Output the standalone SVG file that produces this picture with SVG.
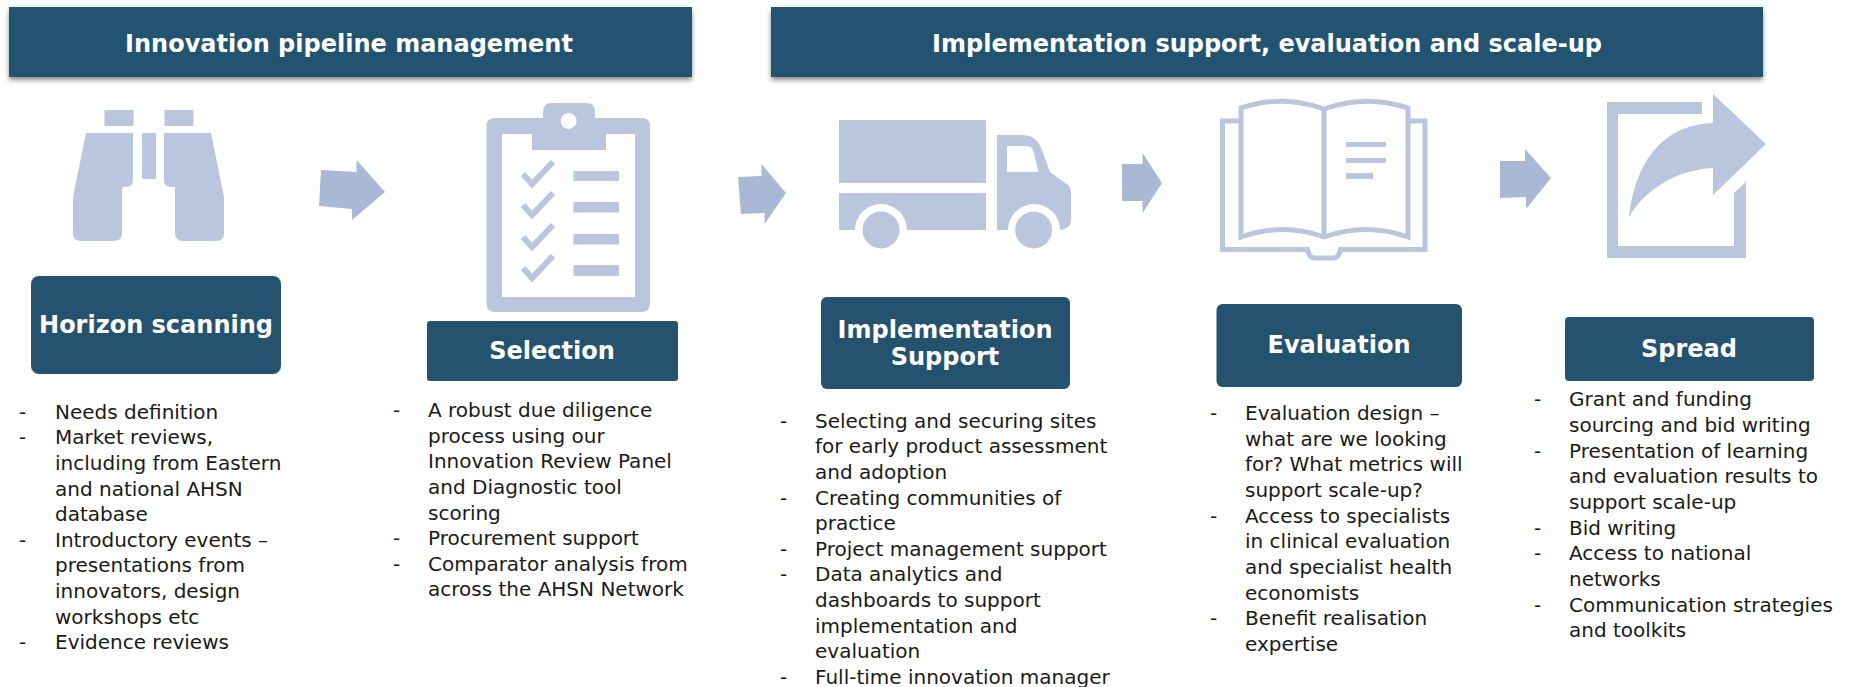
<svg xmlns="http://www.w3.org/2000/svg" width="1850" height="687" viewBox="0 0 1850 687">
<style>
.bar{fill:#24526f}
.sh{fill:#24526f;filter:url(#s)}
.ic{fill:#bac6dd}
.ln{fill:none;stroke:#bac6dd;stroke-width:5}
.ar{fill:#a9b8d5}
text{font-family:"DejaVu Sans","Liberation Sans",sans-serif}
.h{font-size:24px;font-weight:700;fill:#fff;text-anchor:middle}
.t{font-size:20px;fill:#1a1a1a}
</style>
<defs>
<filter id="s" x="-5%" y="-20%" width="110%" height="150%"><feDropShadow dx="0" dy="3" stdDeviation="2.5" flood-color="#000" flood-opacity=".45"/></filter>
</defs>
<rect width="1850" height="687" fill="#fff"/>
<g id="header-pipeline"><rect class="sh" x="9" y="7" width="683" height="70"/><text class="h" x="349" y="52">Innovation pipeline management</text></g>
<g id="header-implementation"><rect class="sh" x="771" y="7" width="992" height="70"/><text class="h" x="1267" y="52">Implementation support, evaluation and scale-up</text></g>
<g id="connectors">
<polygon class="ar" points="321,170 356.5,172 356.5,160 385,192 352,220 352,209 319,206"/>
<polygon class="ar" points="738,177 761.4,176 761.4,164 786,193 764.6,224 764.6,213 741,214"/>
<polygon class="ar" points="1122,164 1142.6,164 1142.6,153 1162,183 1142.6,213 1142.6,201 1122,201"/>
<polygon class="ar" points="1500,161 1525,161 1525,149 1551,178 1526,209 1526,197 1500,198"/>
</g>
<g id="horizon-scanning">
<g class="ic"><rect x="104.500" y="110" width="29" height="16"/><rect x="164.500" y="110" width="29" height="16"/><rect x="142" y="133" width="14" height="46"/>
<path d="M86 133H133V180Q133 187 126 187H122V233Q122 241 114 241H81Q73 241 73 233V197Z"/>
<path d="M211 133H164V180Q164 187 171 187H175V233Q175 241 183 241H216Q224 241 224 233V197Z"/></g>
<rect class="bar" x="31" y="276" width="250" height="98" rx="8"/><text class="h" x="156" y="333">Horizon scanning</text>
<g class="t"><text x="19" y="419">-</text><text x="55" y="419">Needs definition</text><text x="19" y="444">-</text><text x="55" y="444">Market reviews,</text><text x="55" y="470">including from Eastern</text><text x="55" y="496">and national AHSN</text><text x="55" y="521">database</text><text x="19" y="547">-</text><text x="55" y="547">Introductory events –</text><text x="55" y="572">presentations from</text><text x="55" y="598">innovators, design</text><text x="55" y="624">workshops etc</text><text x="19" y="649">-</text><text x="55" y="649">Evidence reviews</text></g>
</g>
<g id="selection">
<path class="ic" fill-rule="evenodd" d="M495 118H543V112Q543 103 552 103H586Q595 103 595 112V118H642Q650 118 650 126V303Q650 312 641 312H495Q486.500 312 486.500 303V126Q486.500 118 495 118ZM502 134V297H635V134H606V150H532V134ZM568.600 113A8 8 0 1 0 568.700 129A8 8 0 1 0 568.600 113Z"/>
<g class="ic"><rect x="573.500" y="171" width="45.500" height="10"/><rect x="573.500" y="202" width="45.500" height="10.500"/><rect x="573.500" y="234" width="45.500" height="10.500"/><rect x="573.500" y="265" width="45.500" height="11"/></g>
<g fill="none" stroke="#bac6dd" stroke-width="6"><path d="M523 174L532 184L553 162"/><path d="M523 205L532 215L553 193"/><path d="M523 237L532 247L553 225"/><path d="M523 268L532 278L553 256"/></g>
<rect class="bar" x="427" y="321" width="251" height="60" rx="3"/><text class="h" x="552" y="359">Selection</text>
<g class="t"><text x="393" y="417">-</text><text x="428" y="417">A robust due diligence</text><text x="428" y="443">process using our</text><text x="428" y="468">Innovation Review Panel</text><text x="428" y="494">and Diagnostic tool</text><text x="428" y="520">scoring</text><text x="393" y="545">-</text><text x="428" y="545">Procurement support</text><text x="393" y="571">-</text><text x="428" y="571">Comparator analysis from</text><text x="428" y="596">across the AHSN Network</text></g>
</g>
<g id="implementation-support">
<path class="ic" d="M839 120H986V183H839ZM839 193H986V230H907A26 26 0 0 0 855 230H839ZM997 135H1022Q1037 135 1042 150L1050 172L1068 185Q1071 188 1071 192V220Q1071 229 1060 230A26 26 0 0 0 1008 230H997ZM1007 146V172H1038.600L1033 150Q1031 146 1027 146Z" fill-rule="evenodd"/>
<g class="ic"><circle cx="881" cy="230" r="18.500"/><circle cx="1033.600" cy="230" r="18.500"/></g>
<rect class="bar" x="821" y="297" width="249" height="92" rx="6"/><text class="h" x="945" y="338">Implementation</text><text class="h" x="945" y="365">Support</text>
<g class="t"><text x="780" y="428">-</text><text x="815" y="428">Selecting and securing sites</text><text x="815" y="453">for early product assessment</text><text x="815" y="479">and  adoption</text><text x="780" y="505">-</text><text x="815" y="505">Creating communities of</text><text x="815" y="530">practice</text><text x="780" y="556">-</text><text x="815" y="556">Project management support</text><text x="780" y="581">-</text><text x="815" y="581">Data analytics and</text><text x="815" y="607">dashboards to support</text><text x="815" y="633">implementation and</text><text x="815" y="658">evaluation</text><text x="780" y="684">-</text><text x="815" y="684">Full-time innovation manager</text></g>
</g>
<g id="evaluation">
<path class="ln" d="M1240 121H1222.500V249.500H1307.500Q1309 258 1315 258H1333Q1339 258 1340.500 249.500H1425V121H1408" stroke-width="4.500"/>
<path class="ln" d="M1241 108Q1283 94 1324 109Q1366 94 1408 108V237Q1366 222 1324 237Q1283 222 1241 237ZM1324 109V237"/>
<g class="ic"><rect x="1346" y="142" width="40" height="5"/><rect x="1346" y="158" width="40" height="5"/><rect x="1346" y="173" width="27" height="6"/></g>
<rect class="bar" x="1216.500" y="304" width="245.500" height="83" rx="6"/><text class="h" x="1339" y="353">Evaluation</text>
<g class="t"><text x="1210" y="420">-</text><text x="1245" y="420">Evaluation design –</text><text x="1245" y="446">what are we looking</text><text x="1245" y="471">for? What metrics will</text><text x="1245" y="497">support scale-up?</text><text x="1210" y="523">-</text><text x="1245" y="523">Access to specialists</text><text x="1245" y="548">in clinical evaluation</text><text x="1245" y="574">and specialist health</text><text x="1245" y="600">economists</text><text x="1210" y="625">-</text><text x="1245" y="625">Benefit realisation</text><text x="1245" y="651">expertise</text></g>
</g>
<g id="spread">
<g class="ic"><path d="M1607 102H1702V114H1618V246H1734V193L1746 182V258H1607Z"/>
<path d="M1713 94L1766 144L1713 195V168C1675 170 1645 190 1629 217C1635 165 1660 125 1713 123Z"/></g>
<rect class="bar" x="1565" y="317" width="249" height="64" rx="4"/><text class="h" x="1689" y="357">Spread</text>
<g class="t"><text x="1534" y="406">-</text><text x="1569" y="406">Grant and funding</text><text x="1569" y="432">sourcing and bid writing</text><text x="1534" y="458">-</text><text x="1569" y="458">Presentation of learning</text><text x="1569" y="483">and evaluation results to</text><text x="1569" y="509">support scale-up</text><text x="1534" y="535">-</text><text x="1569" y="535">Bid writing</text><text x="1534" y="560">-</text><text x="1569" y="560">Access to national</text><text x="1569" y="586">networks</text><text x="1534" y="612">-</text><text x="1569" y="612">Communication strategies</text><text x="1569" y="637">and toolkits</text></g>
</g>
</svg>
